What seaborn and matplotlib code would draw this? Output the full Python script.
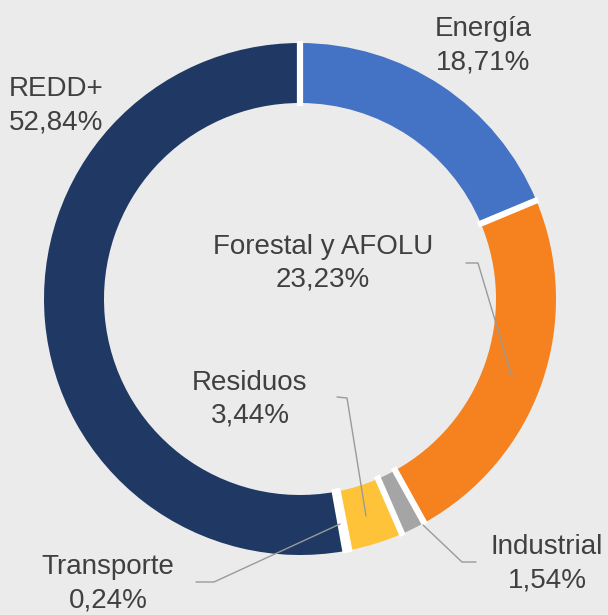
import matplotlib
matplotlib.use('Agg')
import numpy as np
import matplotlib.pyplot as plt
import seaborn as sns

# data
sectors = ['Energía', 'Forestal y AFOLU', 'Industrial', 'Residuos', 'Transporte', 'REDD+']
shares = [18.71, 23.23, 1.54, 3.44, 0.24, 52.84]
colors = ['#4472C4', '#F5811F', '#A5A5A5', '#FFC33A', '#5B9BD5', '#1F3864']

# label anchor (pixel coords from top-left) and leader lines
label_pos = {
    'Energía': (483, 46, 'center'),
    'Forestal y AFOLU': (323, 263, 'center'),
    'Residuos': (250, 399, 'center'),
    'Industrial': (547, 564, 'center'),
    'Transporte': (108, 584, 'center'),
    'REDD+': (9, 106, 'left'),
}
leaders = {
    'Forestal y AFOLU': [(466, 263), (478, 263), (512, 377)],
    'Residuos': [(337, 397), (347, 398), (366, 516)],
    'Industrial': [(476, 562), (462, 562), (423, 525)],
    'Transporte': [(196, 582), (214, 582), (340, 524)],
}

W, H = 608, 615
BG = '#EBEBEB'


def py(y):
    return H - y


sns.set_theme(style='white')
plt.rcParams['font.family'] = ['Liberation Sans', 'DejaVu Sans']

fig = plt.figure(figsize=(W / 100, H / 100), dpi=100, facecolor=BG)
ax = fig.add_axes([0, 0, 1, 1])
ax.set_facecolor(BG)

cx, cy, r, ring = 300, py(299), 256, 60
ax.pie(shares, colors=colors, startangle=90, counterclock=False,
       center=(cx, cy), radius=r,
       wedgeprops=dict(width=ring, linewidth=0))

# white separators between slices
bounds = np.concatenate([[0], np.cumsum(shares)[:-1]]) / sum(shares)
for b in bounds:
    ang = np.deg2rad(90 - 360 * b)
    r0, r1 = r - ring - 3, r + 2
    ax.plot([cx + r0 * np.cos(ang), cx + r1 * np.cos(ang)],
            [cy + r0 * np.sin(ang), cy + r1 * np.sin(ang)],
            color='white', lw=4.5, solid_capstyle='butt')

for name, val in zip(sectors, shares):
    x, y, ha = label_pos[name]
    txt = f"{name}\n{val:.2f}%".replace('.', ',')
    ax.text(x, py(y), txt, ha=ha, va='center', fontsize=20,
            color='#404040', linespacing=1.35)

for name, pts in leaders.items():
    xs = [p[0] for p in pts]
    ys = [py(p[1]) for p in pts]
    ax.plot(xs, ys, color='#9A9A9A', lw=1)

ax.set_xlim(0, W)
ax.set_ylim(0, H)
ax.set_aspect('equal')
ax.axis('off')

fig.savefig('out.png', dpi=100, facecolor=BG)
